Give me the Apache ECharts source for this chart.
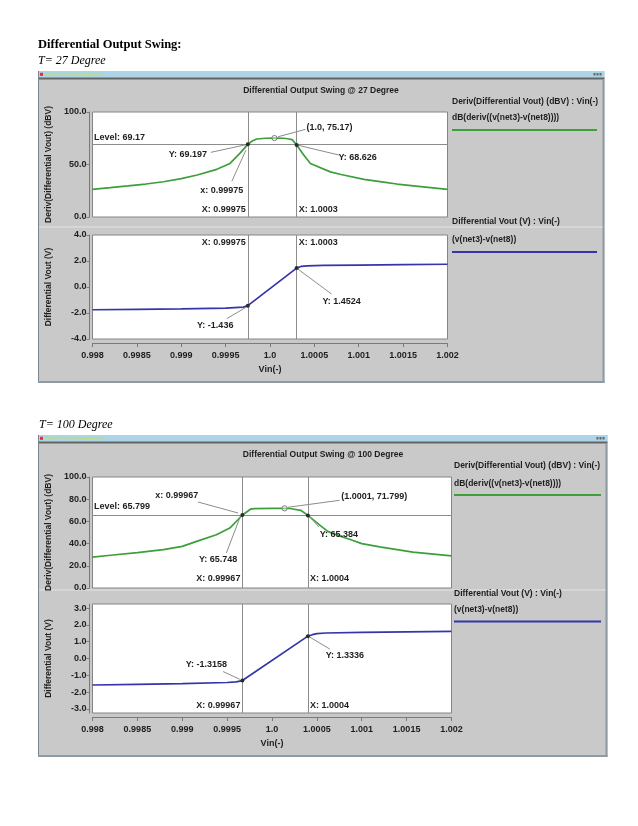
<!DOCTYPE html>
<html><head><meta charset="utf-8">
<script src="https://cdn.jsdelivr.net/npm/echarts@6/dist/echarts.min.js"></script>
<style>html,body{margin:0;padding:0;background:#fff}#c{width:638px;height:826px}</style>
</head><body><div id="c"></div>
<script>
// ---------- data ----------
const xTicks = [0.998, 0.9985, 0.999, 0.9995, 1.0, 1.0005, 1.001, 1.0015, 1.002];
const xTickLabels = ['0.998', '0.9985', '0.999', '0.9995', '1.0', '1.0005', '1.001', '1.0015', '1.002'];
const yTicksDb27 = [0, 50, 100];
const yTicksV27 = [-4, -2, 0, 2, 4];
const yTicksDb100 = [0, 20, 40, 60, 80, 100];
const yTicksV100 = [-3, -2, -1, 0, 1, 2, 3];

// 27 degree : dB(deriv(vout))
const vinDb27 = [0.998, 0.9982, 0.9984, 0.9986, 0.9988, 0.999, 0.99918, 0.9994, 0.99955, 0.99966, 0.99975, 0.9998, 0.99985, 0.99995, 1.00005, 1.00015, 1.0002, 1.00025, 1.0003, 1.00038, 1.000455, 1.00068, 1.0008, 1.00106, 1.0013, 1.00143, 1.0017, 1.002];
const db27 = [26.4, 27.9, 29.6, 31.4, 33.6, 36.5, 40.0, 45.4, 51.0, 60.6, 69.197, 72.4, 74.3, 75.0, 75.17, 75.0, 74.5, 73.7, 68.626, 59.0, 51.0, 43.0, 40.5, 35.9, 33.0, 31.4, 29.0, 26.4];
// 27 degree : differential vout
const vinV27 = [0.998, 0.9985, 0.999, 0.9995, 0.9997, 0.99975, 1.0003, 1.00035, 1.00042, 1.0006, 1.001, 1.0015, 1.002];
const v27 = [-1.75, -1.72, -1.69, -1.63, -1.55, -1.436, 1.4524, 1.58, 1.63, 1.66, 1.69, 1.72, 1.75];
// 100 degree : dB(deriv(vout))
const vinDb100 = [0.998, 0.9982, 0.9985, 0.99879, 0.999, 0.99916, 0.99938, 0.99953, 0.99962, 0.99967, 0.99976, 0.9998, 1.0, 1.0001, 1.0002, 1.00032, 1.0004, 1.00055, 1.00062, 1.00075, 1.00088, 1.001, 1.0012, 1.00157, 1.002];
const db100 = [27.9, 29.5, 31.8, 34.5, 37.5, 42.0, 48.0, 54.0, 61.5, 65.748, 71.0, 71.5, 71.8, 71.8, 71.6, 70.0, 65.384, 55.5, 51.0, 47.0, 43.5, 40.0, 37.0, 32.4, 29.0];
// 100 degree : differential vout
const vinV100 = [0.998, 0.9985, 0.999, 0.9995, 0.9996, 0.99967, 1.0004, 1.00045, 1.0005, 1.0006, 1.001, 1.0015, 1.002];
const v100 = [-1.58, -1.54, -1.5, -1.43, -1.39, -1.3158, 1.3336, 1.42, 1.48, 1.52, 1.56, 1.59, 1.62];

// cursors / levels
const cursors27 = [0.99975, 1.0003];
const level27 = 69.17;
const cursors100 = [0.99967, 1.0004];
const level100 = 65.799;

// annotation anchors (data space) and texts
const annoPts27dB = [[0.99975, 69.197], [0.99975, 69.197], [1.0003, 68.626], [1.00005, 75.17], [0.998, 69.17], [0.99975, 0], [1.0003, 0]];
const annoTxt27dB = ['Y: 69.197', 'x: 0.99975', 'Y: 68.626', '(1.0, 75.17)', 'Level: 69.17', 'X: 0.99975', 'X: 1.0003'];
const annoPts27V = [[0.99975, 4], [1.0003, 4], [0.99975, -1.436], [1.0003, 1.4524]];
const annoTxt27V = ['X: 0.99975', 'X: 1.0003', 'Y: -1.436', 'Y: 1.4524'];
const annoPts100dB = [[0.99967, 65.748], [0.99967, 65.748], [1.0004, 65.384], [1.00014, 71.799], [0.998, 65.799], [0.99967, 0], [1.0004, 0]];
const annoTxt100dB = ['x: 0.99967', 'Y: 65.748', 'Y: 65.384', '(1.0001, 71.799)', 'Level: 65.799', 'X: 0.99967', 'X: 1.0004'];
const annoPts100V = [[0.99967, -1.3158], [1.0004, 1.3336], [0.99967, -3.25], [1.0004, -3.25]];
const annoTxt100V = ['Y: -1.3158', 'Y: 1.3336', 'X: 0.99967', 'X: 1.0004'];

// ---------- styling / layout ----------
const annoLay27dB = [
  {mark: 'dot', lead: [0, 0, -37, 8], t: [-60, 10], align: 'center'},
  {lead: [-2, 6, -16, 37], t: [-26, 46], align: 'center'},
  {mark: 'dot', lead: [0, 0, 42, 10], t: [61, 13], align: 'center'},
  {mark: 'ring', lead: [3.5, -1.3, 31, -8.7], t: [32, -11], align: 'left'},
  {t: [1.5, -7], align: 'left'},
  {t: [-2, -7], align: 'right'},
  {t: [2, -7], align: 'left'}
];
const annoLay27V = [
  {t: [-2, 8], align: 'right'},
  {t: [2, 8], align: 'left'},
  {mark: 'dot', lead: [-1.6, 1.5, -21, 13], t: [-32.6, 20], align: 'center'},
  {mark: 'dot', lead: [0, 0, 35, 26], t: [45, 33], align: 'center'}
];
const annoLay100dB = [
  {mark: 'dot', lead: [-4.3, -2, -44.3, -13], t: [-65.6, -19.3], align: 'center'},
  {lead: [-2, 1.4, -16, 38], t: [-24.3, 44], align: 'center'},
  {mark: 'dot', lead: [1, 0.3, 11, 11.6], t: [31, 18.6], align: 'center'},
  {mark: 'ring', lead: [3.3, -1, 55, -8], t: [56.7, -11.3], align: 'left'},
  {t: [1.5, -8], align: 'left'},
  {t: [-2, -9], align: 'right'},
  {t: [2, -9], align: 'left'}
];
const annoLay100V = [
  {mark: 'dot', lead: [-19.3, -9, -2.6, -1.3], t: [-36, -15.6], align: 'center'},
  {mark: 'dot', lead: [2, 1, 22, 13], t: [37, 19.8], align: 'center'},
  {t: [-2, -7], align: 'right'},
  {t: [2, -7], align: 'left'}
];

const FONT = '"Liberation Sans", Arial, sans-serif';
const SERIF = '"Liberation Serif", "Times New Roman", serif';
const GREEN = '#3c9f3c';
const BLUE = '#3535aa';
const TXT = '#1e1e1e';
const BG = '#c9c9c9';

function zip(xs, ys) { return xs.map((x, i) => [x, ys[i]]); }

function xLabel(v) {
  let best = 0, d = Infinity;
  xTicks.forEach((t, i) => { if (Math.abs(t - v) < d) { d = Math.abs(t - v); best = i; } });
  return xTickLabels[best];
}

function annoSeries(idx, pts, txts, lay) {
  return {
    type: 'custom', xAxisIndex: idx, yAxisIndex: idx, z: 10, silent: true, clip: false,
    data: pts.map((p, i) => [p[0], p[1], i]),
    encode: {x: 0, y: 1},
    renderItem: function (params, api) {
      const i = api.value(2);
      const a = lay[i];
      const p = api.coord([api.value(0), api.value(1)]);
      const ch = [];
      if (a.lead) ch.push({type: 'line', shape: {x1: p[0] + a.lead[0], y1: p[1] + a.lead[1], x2: p[0] + a.lead[2], y2: p[1] + a.lead[3]}, style: {stroke: '#8c8c8c', lineWidth: 1}});
      if (a.mark === 'dot') ch.push({type: 'circle', shape: {cx: p[0], cy: p[1], r: 2}, style: {fill: '#2a2a2a'}});
      if (a.mark === 'ring') ch.push({type: 'circle', shape: {cx: p[0], cy: p[1], r: 2.6}, style: {fill: 'rgba(255,255,255,0.4)', stroke: '#7a7a7a', lineWidth: 1}});
      ch.push({type: 'text', x: p[0] + a.t[0], y: p[1] + a.t[1], style: {text: txts[i], fill: TXT, fontSize: 9, fontWeight: 'bold', fontFamily: FONT, align: a.align, verticalAlign: 'middle'}});
      return {type: 'group', children: ch};
    }
  };
}

function lineSeries(idx, name, data, color, cursors, level) {
  const ml = cursors.map(c => ({xAxis: c}));
  if (level !== null) ml.push({yAxis: level});
  return {
    type: 'line', name: name, xAxisIndex: idx, yAxisIndex: idx, data: data,
    showSymbol: false, smooth: false, z: 3,
    lineStyle: {color: color, width: 1.7}, itemStyle: {color: color},
    markLine: {silent: true, symbol: 'none', animation: false, precision: 8, label: {show: false},
      lineStyle: {color: '#8c8c8c', width: 1, type: 'solid'}, data: ml}
  };
}

function yAxis(idx, min, max, ticks, name) {
  return {
    type: 'value', gridIndex: idx, min: min, max: max, offset: 3,
    name: name, nameLocation: 'middle', nameGap: 36, nameRotate: 90,
    nameTextStyle: {color: TXT, fontSize: 8.5, fontWeight: 'bold', fontFamily: FONT},
    axisLine: {show: true, onZero: false, lineStyle: {color: '#7a7a7a', width: 1}},
    axisTick: {show: true, length: 3, lineStyle: {color: '#7a7a7a'}, customValues: ticks},
    axisLabel: {color: TXT, fontSize: 9, fontWeight: 'bold', fontFamily: FONT, margin: 3, customValues: ticks, formatter: v => v.toFixed(1)},
    splitLine: {show: false}
  };
}

function xAxis(idx, shown) {
  return {
    type: 'value', gridIndex: idx, min: 0.998, max: 1.002, show: shown, offset: 4,
    name: 'Vin(-)', nameLocation: 'middle', nameGap: 22,
    nameTextStyle: {color: TXT, fontSize: 9, fontWeight: 'bold', fontFamily: FONT},
    axisLine: {show: true, onZero: false, lineStyle: {color: '#7a7a7a', width: 1}},
    axisTick: {show: true, length: 4, lineStyle: {color: '#7a7a7a'}, customValues: xTicks},
    axisLabel: {color: TXT, fontSize: 9, fontWeight: 'bold', fontFamily: FONT, margin: 8, customValues: xTicks, formatter: xLabel},
    splitLine: {show: false}
  };
}

function windowGraphics(x0, y0, x1, y1, sepY, title, titleX, titleY, leg) {
  const w = x1 - x0;
  return [
    {type: 'rect', shape: {x: x0, y: y0, width: w, height: y1 - y0}, style: {fill: BG}, z: -10},
    {type: 'rect', shape: {x: x0, y: y0, width: w, height: 6.5}, style: {fill: '#acd5e8'}, z: -9},
    {type: 'rect', shape: {x: x0, y: y0 + 6.5, width: w, height: 2}, style: {fill: '#656565'}, z: -9},
    {type: 'rect', shape: {x: x0 + 2, y: y0 + 1.8, width: 3, height: 3}, style: {fill: '#d33'}, z: -8},
    {type: 'text', x: x0 + 7, y: y0 + 3.3, style: {text: 'Virtuoso Visualization & Analysis', fill: '#c9df3a', fontSize: 4, fontFamily: FONT, verticalAlign: 'middle'}, z: -8},
    {type: 'rect', shape: {x: x1 - 11, y: y0 + 2, width: 2, height: 2.5}, style: {fill: '#666'}, z: -8},
    {type: 'rect', shape: {x: x1 - 8, y: y0 + 2, width: 2, height: 2.5}, style: {fill: '#666'}, z: -8},
    {type: 'rect', shape: {x: x1 - 5, y: y0 + 2, width: 2, height: 2.5}, style: {fill: '#666'}, z: -8},
    {type: 'line', shape: {x1: x0 + 0.5, y1: y0, x2: x0 + 0.5, y2: y1}, style: {stroke: '#7c858c', lineWidth: 1}, z: -8},
    {type: 'rect', shape: {x: x1 - 2, y: y0 + 8.5, width: 2, height: y1 - y0 - 8.5}, style: {fill: '#8d9ba6'}, z: -8},
    {type: 'rect', shape: {x: x0, y: y1 - 2, width: w, height: 2}, style: {fill: '#8d9ba6'}, z: -8},
    {type: 'line', shape: {x1: x0 + 1, y1: sepY, x2: x1 - 2, y2: sepY}, style: {stroke: '#e4e4e4', lineWidth: 1}, z: -8},
    {type: 'text', x: titleX, y: titleY, style: {text: title, fill: TXT, fontSize: 8.5, fontWeight: 'bold', fontFamily: FONT, align: 'center', verticalAlign: 'middle'}},
    {type: 'text', x: leg.x, y: leg.y[0], style: {text: 'Deriv(Differential Vout) (dBV) : Vin(-)', fill: TXT, fontSize: 8.5, fontWeight: 'bold', fontFamily: FONT, verticalAlign: 'middle'}},
    {type: 'text', x: leg.x, y: leg.y[1], style: {text: 'dB(deriv((v(net3)-v(net8))))', fill: TXT, fontSize: 8.5, fontWeight: 'bold', fontFamily: FONT, verticalAlign: 'middle'}},
    {type: 'line', shape: {x1: leg.x, y1: leg.y[2], x2: leg.x2, y2: leg.y[2]}, style: {stroke: GREEN, lineWidth: 2}},
    {type: 'text', x: leg.x, y: leg.y[3], style: {text: 'Differential Vout (V) : Vin(-)', fill: TXT, fontSize: 8.5, fontWeight: 'bold', fontFamily: FONT, verticalAlign: 'middle'}},
    {type: 'text', x: leg.x, y: leg.y[4], style: {text: '(v(net3)-v(net8))', fill: TXT, fontSize: 8.5, fontWeight: 'bold', fontFamily: FONT, verticalAlign: 'middle'}},
    {type: 'line', shape: {x1: leg.x, y1: leg.y[5], x2: leg.x2, y2: leg.y[5]}, style: {stroke: BLUE, lineWidth: 2}}
  ];
}

const gridStyle = {show: true, backgroundColor: '#ffffff', borderColor: '#858585', borderWidth: 1, containLabel: false};

const option = {
  animation: false,
  backgroundColor: '#ffffff',
  grid: [
    Object.assign({left: 92.5, top: 112, width: 355, height: 105}, gridStyle),
    Object.assign({left: 92.5, top: 235, width: 355, height: 104}, gridStyle),
    Object.assign({left: 92.5, top: 477, width: 359, height: 111}, gridStyle),
    Object.assign({left: 92.5, top: 604, width: 359, height: 109}, gridStyle)
  ],
  xAxis: [xAxis(0, false), xAxis(1, true), xAxis(2, false), xAxis(3, true)],
  yAxis: [
    yAxis(0, 0, 100, yTicksDb27, 'Deriv(Differential Vout) (dBV)'),
    yAxis(1, -4, 4, yTicksV27, 'Differential Vout (V)'),
    yAxis(2, 0, 100, yTicksDb100, 'Deriv(Differential Vout) (dBV)'),
    yAxis(3, -3.25, 3.25, yTicksV100, 'Differential Vout (V)')
  ],
  series: [
    lineSeries(0, 'dB(deriv((v(net3)-v(net8))))', zip(vinDb27, db27), GREEN, cursors27, level27),
    lineSeries(1, '(v(net3)-v(net8))', zip(vinV27, v27), BLUE, cursors27, null),
    lineSeries(2, 'dB(deriv((v(net3)-v(net8))))', zip(vinDb100, db100), GREEN, cursors100, level100),
    lineSeries(3, '(v(net3)-v(net8))', zip(vinV100, v100), BLUE, cursors100, null),
    annoSeries(0, annoPts27dB, annoTxt27dB, annoLay27dB),
    annoSeries(1, annoPts27V, annoTxt27V, annoLay27V),
    annoSeries(2, annoPts100dB, annoTxt100dB, annoLay100dB),
    annoSeries(3, annoPts100V, annoTxt100V, annoLay100V)
  ],
  graphic: [].concat(
    [
      {type: 'text', x: 38, y: 45, style: {text: 'Differential Output Swing:', fill: '#000', fontSize: 12.5, fontWeight: 'bold', fontFamily: SERIF, verticalAlign: 'middle'}},
      {type: 'text', x: 38, y: 61, style: {text: 'T= 27 Degree', fill: '#000', fontSize: 12, fontStyle: 'italic', fontFamily: SERIF, verticalAlign: 'middle'}},
      {type: 'text', x: 39, y: 425, style: {text: 'T= 100 Degree', fill: '#000', fontSize: 12, fontStyle: 'italic', fontFamily: SERIF, verticalAlign: 'middle'}}
    ],
    windowGraphics(38, 71, 604.5, 383, 227, 'Differential Output Swing @ 27 Degree', 321, 91,
      {x: 452, x2: 597, y: [102, 118, 130, 222, 240, 252]}),
    windowGraphics(38, 435, 607.5, 757, 590, 'Differential Output Swing @ 100 Degree', 323, 455,
      {x: 454, x2: 601, y: [466, 483.5, 495, 594, 610, 621.5]})
  )
};

const chart = echarts.init(document.getElementById('c'), null, {renderer: 'canvas'});
chart.setOption(option);
</script>
</body></html>
